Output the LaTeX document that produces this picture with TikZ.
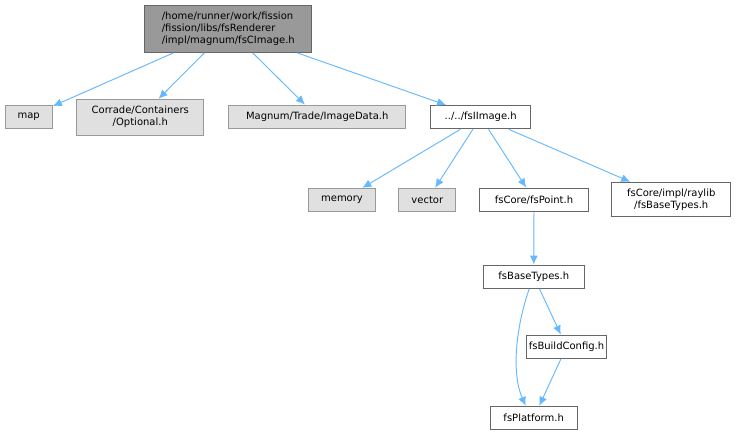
\documentclass[tikz,border=0pt]{standalone}
\usepackage{fontspec}
\setmainfont{DejaVu Sans}
\usetikzlibrary{arrows.meta}
\newlength\px
\setlength\px{0.75pt}
\definecolor{edgeblue}{HTML}{63B8FF}
\definecolor{rootfill}{HTML}{999999}
\definecolor{darkborder}{HTML}{666666}
\definecolor{grayfill}{HTML}{E0E0E0}
\definecolor{grayborder}{HTML}{999999}
\tikzset{
  box/.style={draw=darkborder, line width=0.75pt, fill=white, inner sep=0pt,
    minimum height=23.3\px, font=\fontsize{7.5pt}{9pt}\selectfont, text=black},
  rootbox/.style={box, fill=rootfill, draw=darkborder, align=left},
  graybox/.style={box, fill=grayfill, draw=grayborder, align=center},
  whitebox/.style={box, align=center},
  edge/.style={draw=edgeblue, line width=0.7pt,
    -{Latex[length=6.75pt, width=6pt]}},
}
\begin{document}
\begin{tikzpicture}[x=\px, y=-\px]
\useasboundingbox (0,0) rectangle (736,435);
\node[rootbox, minimum width=166.7\px, minimum height=47.3\px] (root) at (228.3,28.7)
  {/home/runner/work/fission\\/fission/libs/fsRenderer\\/impl/magnum/fsCImage.h};
\node[graybox, minimum width=47.3\px] (map) at (28.7,116.7) {map};
\node[graybox, minimum width=127.3\px, minimum height=35.7\px] (corrade) at (140.3,117.2)
  {Corrade/Containers\\/Optional.h};
\node[graybox, minimum width=177\px] (magnum) at (317.2,116.7) {Magnum/Trade/ImageData.h};
\node[whitebox, minimum width=100\px] (iimage) at (480.7,117.2) {../../fsIImage.h};
\node[graybox, minimum width=67.4\px] (memory) at (342,200) {memory};
\node[graybox, minimum width=56.7\px] (vector) at (427.3,200) {vector};
\node[whitebox, minimum width=109.4\px] (point) at (534,199.7) {fsCore/fsPoint.h};
\node[whitebox, minimum width=119\px, minimum height=34.4\px] (raylib) at (671.2,199.5)
  {fsCore/impl/raylib\\/fsBaseTypes.h};
\node[whitebox, minimum width=101\px] (bt) at (533.8,276.7) {fsBaseTypes.h};
\node[whitebox, minimum width=80\px] (bc) at (566.5,346.7) {fsBuildConfig.h};
\node[whitebox, minimum width=87.3\px] (pl) at (533.7,418) {fsPlatform.h};

\draw[edge] (root) -- (map);
\draw[edge] (root) -- (corrade);
\draw[edge] (root) -- (magnum);
\draw[edge] (root) -- (iimage);
\draw[edge] (iimage) -- (memory);
\draw[edge] (iimage) -- (vector);
\draw[edge] (iimage) -- (point);
\draw[edge] (iimage) -- (raylib);
\draw[edge] (point) -- (bt);
\draw[edge] (bt) -- (bc);
\draw[edge] (bc) -- (pl);
\draw[edge] ([xshift=-3.4pt]bt.south) .. controls (518,320) and (510,370) .. ([xshift=-6pt]pl.north);
\end{tikzpicture}
\end{document}
